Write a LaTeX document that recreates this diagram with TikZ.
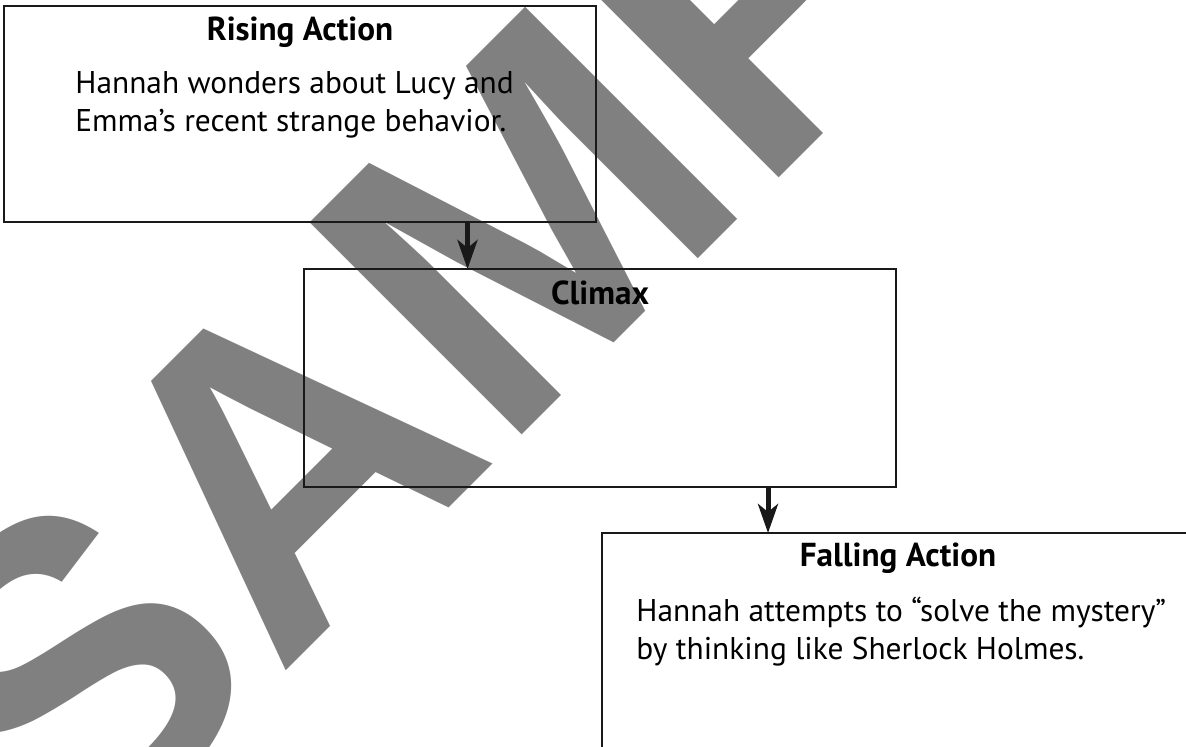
\documentclass[tikz,border=0pt]{standalone}
\usepackage{fontspec}
\setmainfont{PT Sans}
\newfontfamily\wmfont{Liberation Sans}
\usetikzlibrary{arrows.meta}
\tikzset{
  stagebox/.style={draw=black!90, line width=0.6pt, rectangle, inner sep=0pt, outer sep=0pt, minimum width=296pt},
  headtext/.style={font=\fontsize{16.6}{19}\selectfont\bfseries, inner sep=0pt, anchor=base},
  bodytext/.style={font=\fontsize{15.7}{19}\selectfont, inner sep=0pt, anchor=base west, align=left},
  arr/.style={line width=2.5pt, black!90, -{Stealth[length=14.5pt, width=10pt, inset=4pt]}},
  watermark/.style={font=\wmfont\fontsize{218}{218}\selectfont\bfseries, text=gray, inner sep=0pt, anchor=base west, rotate=45}
}
\begin{document}
\begin{tikzpicture}[x=0.5pt,y=-0.5pt]
\useasboundingbox (0,0) rectangle (1186,746);
\node[watermark] (wm) at (73,884) {SAMPLE};
\node[stagebox, minimum height=108pt] (rising) at (300,114) {};
\node[stagebox, minimum height=109pt] (climax) at (600,378) {};
\node[stagebox, minimum height=109pt] (falling) at (898,642) {};
\node[headtext] (risingh) at (300,40) {Rising Action};
\node[bodytext] (risingb) at (75,131) {Hannah wonders about Lucy and\\Emma’s recent strange behavior.};
\node[headtext] (climaxh) at (600,304) {Climax};
\node[headtext] (fallingh) at (898,566) {Falling Action};
\node[bodytext] (fallingb) at (636,659) {Hannah attempts to “solve the mystery”\\by thinking like Sherlock Holmes.};
\coordinate (ax1) at (467.5,0);
\coordinate (ax2) at (768,0);
\draw[arr] (ax1 |- rising.south) -- (ax1 |- climax.north);
\draw[arr] (ax2 |- climax.south) -- (ax2 |- falling.north);
\end{tikzpicture}
\end{document}
